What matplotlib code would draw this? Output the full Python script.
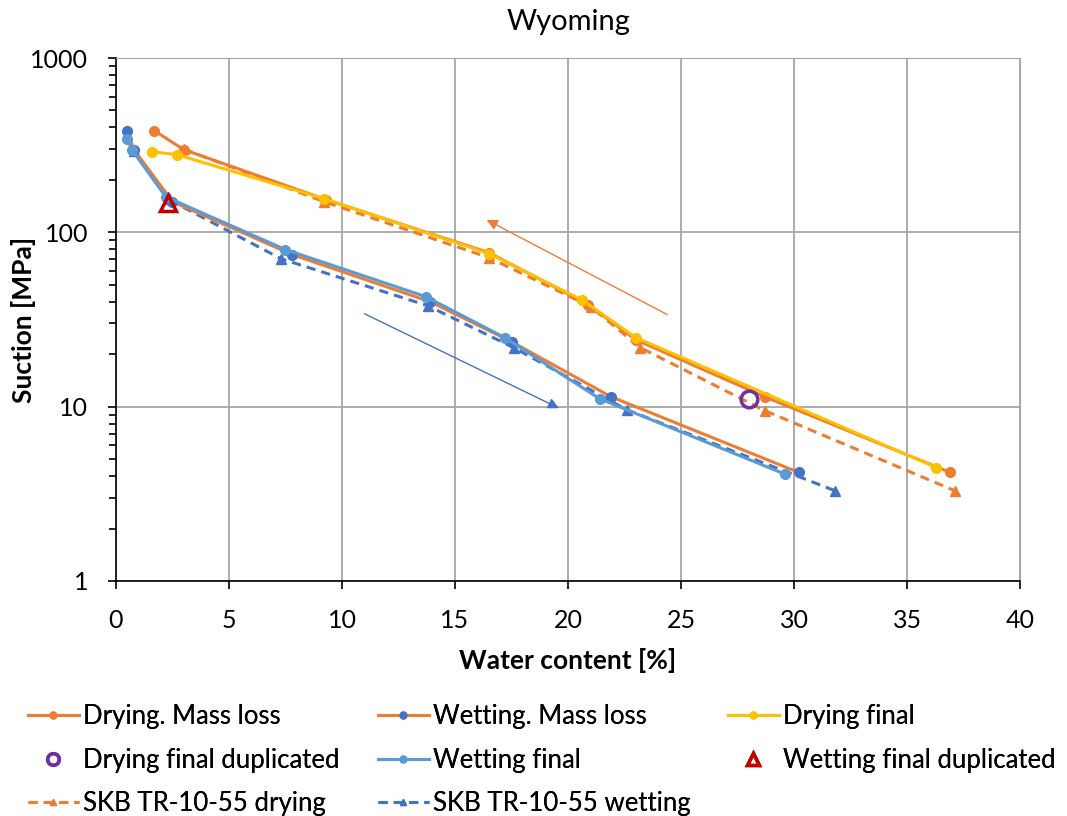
import matplotlib.pyplot as plt
from matplotlib.ticker import LogLocator, NullFormatter, FixedLocator

plt.rcParams['font.family'] = ['Lato', 'DejaVu Sans']

ORANGE = '#ED7D31'
BLUE = '#4472C4'
LIGHT_BLUE = '#5B9BD5'
YELLOW = '#FFC000'

# water content [%] / suction [MPa]
drying_ml_w = [1.7, 3.0, 9.3, 16.5, 20.9, 23.0, 28.7, 36.9]
drying_ml_s = [383, 298, 154, 76.5, 38.5, 24.2, 11.4, 4.2]

wetting_ml_w = [0.5, 0.8, 2.5, 7.8, 13.9, 17.5, 21.9, 30.2]
wetting_ml_s = [383, 298, 150, 74.5, 40, 23.6, 11.4, 4.2]

drying_final_w = [1.6, 2.7, 9.2, 16.5, 20.6, 23.0, 36.3]
drying_final_s = [290, 279, 156, 75.5, 41.1, 24.9, 4.47]

wetting_final_w = [0.5, 0.7, 2.2, 7.5, 13.7, 17.2, 21.4, 29.6]
wetting_final_s = [345, 298, 160, 79.6, 42.8, 24.9, 11.1, 4.1]

drying_dup_w = [28.0]
drying_dup_s = [11.0]

wetting_dup_w = [2.3]
wetting_dup_s = [148]

skb_drying_w = [3.0, 9.2, 16.5, 21.0, 23.2, 28.7, 37.1]
skb_drying_s = [300, 150, 71.6, 37.5, 21.8, 9.5, 3.3]

skb_wetting_w = [0.8, 2.3, 7.3, 13.8, 17.6, 22.6, 31.8]
skb_wetting_s = [294, 155, 70.6, 37.9, 21.8, 9.6, 3.3]

# direction arrows (tail -> head)
arrow_drying = [(24.4, 33.7), (16.4, 118)]
arrow_wetting = [(11.0, 34.1), (19.6, 9.8)]

fig = plt.figure(figsize=(10.67, 8.16), dpi=100)
ax = fig.add_axes([0.1087, 0.288, 0.8473, 0.6409])

h = {}
h['dml'], = ax.plot(drying_ml_w, drying_ml_s, '-o', color=ORANGE, lw=2.2, ms=7,
                    label='Drying. Mass loss', zorder=3)
h['wml'], = ax.plot(wetting_ml_w, wetting_ml_s, '-o', color=ORANGE, mfc=BLUE,
                    mec=BLUE, lw=2.2, ms=7, label='Wetting. Mass loss', zorder=3)
h['df'], = ax.plot(drying_final_w, drying_final_s, '-o', color=YELLOW, lw=2.2,
                   ms=7, label='Drying final', zorder=4)
h['dd'], = ax.plot(drying_dup_w, drying_dup_s, 'o', mfc='none', mec='#7030A0',
                   mew=2.5, ms=12, label='Drying final duplicated', zorder=6)
h['wf'], = ax.plot(wetting_final_w, wetting_final_s, '-o', color=LIGHT_BLUE,
                   lw=2.2, ms=7, label='Wetting final', zorder=4)
h['wd'], = ax.plot(wetting_dup_w, wetting_dup_s, '^', mfc='none', mec='#C00000',
                   mew=2.5, ms=12, label='Wetting final duplicated', zorder=6)
h['sd'], = ax.plot(skb_drying_w, skb_drying_s, '--^', color=ORANGE, lw=2.2, ms=7,
                   dashes=(3, 2), label='SKB TR-10-55 drying', zorder=2)
h['sw'], = ax.plot(skb_wetting_w, skb_wetting_s, '--^', color=BLUE, lw=2.2, ms=7,
                   dashes=(3, 2), label='SKB TR-10-55 wetting', zorder=2)

for (tail, head), col in [(arrow_drying, ORANGE), (arrow_wetting, BLUE)]:
    ax.annotate('', xy=head, xytext=tail,
                arrowprops=dict(arrowstyle='-|>', color=col, lw=1,
                                mutation_scale=16, shrinkA=0, shrinkB=0))

ax.set_yscale('log')
ax.set_xlim(0, 40)
ax.set_ylim(1, 1000)
ax.xaxis.set_major_locator(FixedLocator(range(0, 41, 5)))
ax.yaxis.set_major_locator(FixedLocator([1, 10, 100, 1000]))
ax.set_yticklabels(['1', '10', '100', '1000'])
ax.yaxis.set_minor_locator(LogLocator(base=10, subs=range(2, 10)))
ax.yaxis.set_minor_formatter(NullFormatter())
ax.tick_params(axis='both', labelsize=18, length=6, width=1.2,
               color='black', pad=14)
ax.tick_params(axis='y', which='minor', length=5, width=1.2)

ax.grid(True, which='major', color='#A6A6A6', lw=1.3)
for side in ['top', 'right']:
    ax.spines[side].set_color('#A6A6A6')
for side in ['bottom', 'left']:
    ax.spines[side].set_color('black')
    ax.spines[side].set_linewidth(1.2)

ax.set_xlabel('Water content [%]', fontsize=19, fontweight='bold', labelpad=12)
ax.set_ylabel('Suction [MPa]', fontsize=19, fontweight='bold', labelpad=-4)
ax.set_title('Wyoming', fontsize=21, pad=20)

# legend laid out row-wise in three fixed columns, like the original
columns = [['dml', 'dd', 'sd'], ['wml', 'wf', 'sw'], ['df', 'wd']]
col_x = [0.026, 0.354, 0.682]
for keys, x0 in zip(columns, col_x):
    leg = fig.legend([h[k] for k in keys], [h[k].get_label() for k in keys],
                     loc='upper left', bbox_to_anchor=(x0, 0.137),
                     frameon=False, fontsize=18.5, handlelength=2.0,
                     handletextpad=0.15, labelspacing=0.72, borderpad=0,
                     borderaxespad=0, markerscale=0.7)
    fig.add_artist(leg)

fig.savefig('out.png', dpi=100)
